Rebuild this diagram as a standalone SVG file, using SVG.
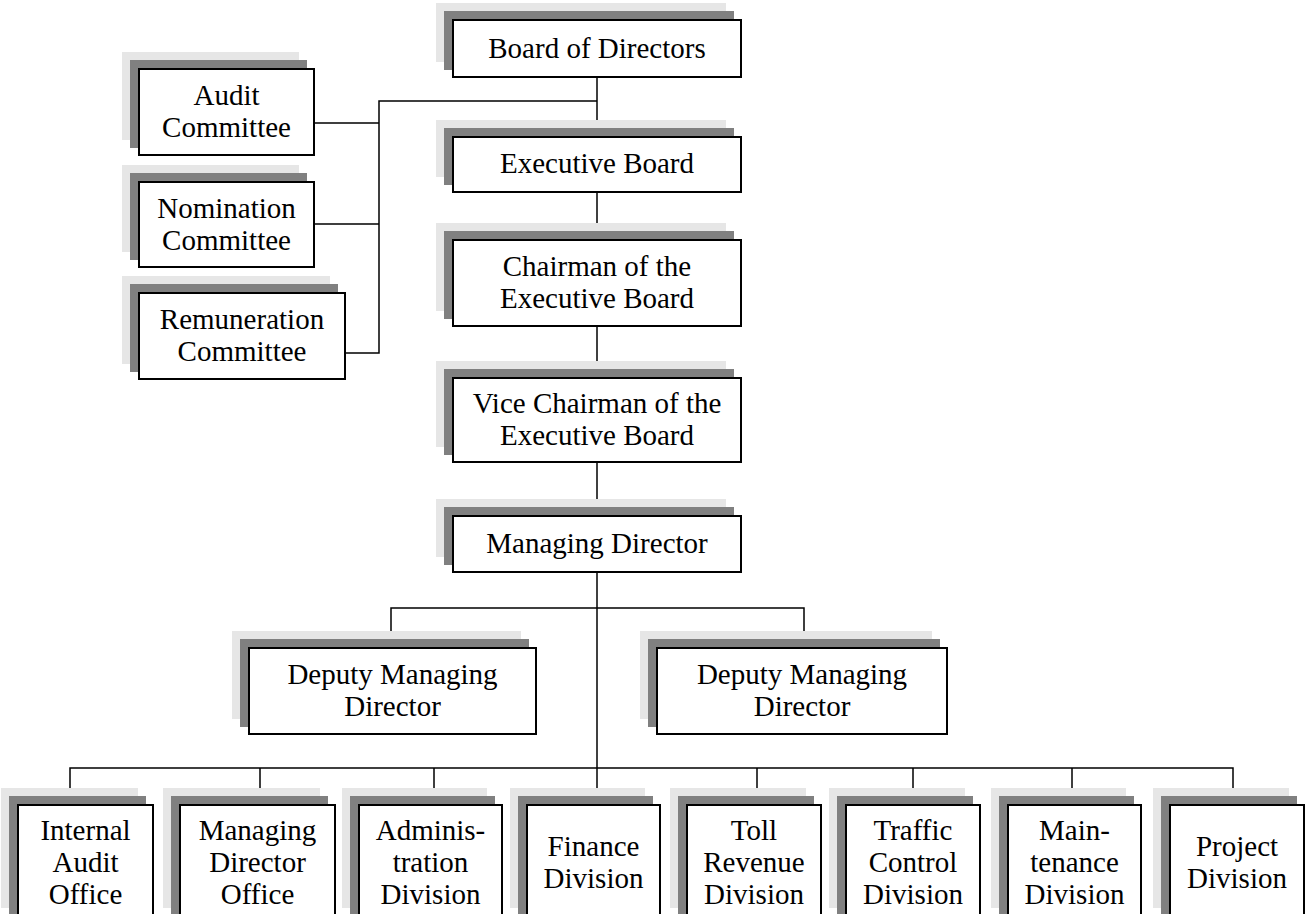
<svg xmlns="http://www.w3.org/2000/svg" width="1308" height="914" viewBox="0 0 1308 914">
<style>
.l{fill:#e6e6e6}
.d{fill:#808080}
.b{fill:#fff;stroke:#000;stroke-width:2}
.t{font-family:"Liberation Serif","Times New Roman",serif;font-size:29px;text-anchor:middle;fill:#000}
.c{stroke:#000;stroke-width:1.5;fill:none}
</style>
<rect width="1308" height="914" fill="#fff"/>
<g id="connectors">
<path class="c" d="M597 78V788"/>
<path class="c" d="M597 101H379V353H346M379 123H315M379 224H315"/>
<path class="c" d="M391 631V608H804V631"/>
<path class="c" d="M70 788V768H1233V788M260 768V788M434 768V788M757 768V788M913 768V788M1072 768V788"/>
</g>
<g id="board">
<rect class="l" x="436" y="3" width="290" height="59"/><rect class="d" x="444" y="11" width="290" height="59"/><rect class="b" x="453" y="20" width="288" height="57"/>
<text class="t" x="597" y="58">Board of Directors</text></g>
<g id="executive-board">
<rect class="l" x="436" y="120" width="290" height="57"/><rect class="d" x="444" y="128" width="290" height="57"/><rect class="b" x="453" y="137" width="288" height="55"/>
<text class="t" x="597" y="173">Executive Board</text></g>
<g id="chairman">
<rect class="l" x="436" y="223" width="290" height="88"/><rect class="d" x="444" y="231" width="290" height="88"/><rect class="b" x="453" y="240" width="288" height="86"/>
<text class="t" x="597" y="276">Chairman of the</text><text class="t" x="597" y="308">Executive Board</text></g>
<g id="vice-chairman">
<rect class="l" x="436" y="361" width="290" height="86"/><rect class="d" x="444" y="369" width="290" height="86"/><rect class="b" x="453" y="378" width="288" height="84"/>
<text class="t" x="597" y="413">Vice Chairman of the</text><text class="t" x="597" y="445">Executive Board</text></g>
<g id="managing-director">
<rect class="l" x="436" y="499" width="290" height="58"/><rect class="d" x="444" y="507" width="290" height="58"/><rect class="b" x="453" y="516" width="288" height="56"/>
<text class="t" x="597" y="553">Managing Director</text></g>
<g id="audit-committee">
<rect class="l" x="122" y="52" width="177" height="88"/><rect class="d" x="130" y="60" width="177" height="88"/><rect class="b" x="139" y="69" width="175" height="86"/>
<text class="t" x="226.5" y="105">Audit</text><text class="t" x="226.5" y="137">Committee</text></g>
<g id="nomination-committee">
<rect class="l" x="122" y="165" width="177" height="87"/><rect class="d" x="130" y="173" width="177" height="87"/><rect class="b" x="139" y="182" width="175" height="85"/>
<text class="t" x="226.5" y="217.5">Nomination</text><text class="t" x="226.5" y="249.5">Committee</text></g>
<g id="remuneration-committee">
<rect class="l" x="122" y="276" width="208" height="88"/><rect class="d" x="130" y="284" width="208" height="88"/><rect class="b" x="139" y="293" width="206" height="86"/>
<text class="t" x="242" y="329">Remuneration</text><text class="t" x="242" y="361">Committee</text></g>
<g id="deputy-left">
<rect class="l" x="232" y="631" width="289" height="88"/><rect class="d" x="240" y="639" width="289" height="88"/><rect class="b" x="249" y="648" width="287" height="86"/>
<text class="t" x="392.5" y="684">Deputy Managing</text><text class="t" x="392.5" y="716">Director</text></g>
<g id="deputy-right">
<rect class="l" x="640" y="631" width="292" height="88"/><rect class="d" x="648" y="639" width="292" height="88"/><rect class="b" x="657" y="648" width="290" height="86"/>
<text class="t" x="802" y="684">Deputy Managing</text><text class="t" x="802" y="716">Director</text></g>
<g id="internal-audit">
<rect class="l" x="1" y="788" width="137" height="120"/><rect class="d" x="9" y="796" width="137" height="120"/><rect class="b" x="18" y="805" width="135" height="118"/>
<text class="t" x="85.5" y="840">Internal</text><text class="t" x="85.5" y="872">Audit</text><text class="t" x="85.5" y="904">Office</text></g>
<g id="md-office">
<rect class="l" x="163" y="788" width="157" height="120"/><rect class="d" x="171" y="796" width="157" height="120"/><rect class="b" x="180" y="805" width="155" height="118"/>
<text class="t" x="257.5" y="840">Managing</text><text class="t" x="257.5" y="872">Director</text><text class="t" x="257.5" y="904">Office</text></g>
<g id="administration">
<rect class="l" x="342" y="788" width="145" height="120"/><rect class="d" x="350" y="796" width="145" height="120"/><rect class="b" x="359" y="805" width="143" height="118"/>
<text class="t" x="430.5" y="840">Adminis-</text><text class="t" x="430.5" y="872">tration</text><text class="t" x="430.5" y="904">Division</text></g>
<g id="finance">
<rect class="l" x="510" y="788" width="135" height="120"/><rect class="d" x="518" y="796" width="135" height="120"/><rect class="b" x="527" y="805" width="133" height="118"/>
<text class="t" x="593.5" y="856">Finance</text><text class="t" x="593.5" y="888">Division</text></g>
<g id="toll-revenue">
<rect class="l" x="670" y="788" width="136" height="120"/><rect class="d" x="678" y="796" width="136" height="120"/><rect class="b" x="687" y="805" width="134" height="118"/>
<text class="t" x="754" y="840">Toll</text><text class="t" x="754" y="872">Revenue</text><text class="t" x="754" y="904">Division</text></g>
<g id="traffic-control">
<rect class="l" x="829" y="788" width="136" height="120"/><rect class="d" x="837" y="796" width="136" height="120"/><rect class="b" x="846" y="805" width="134" height="118"/>
<text class="t" x="913" y="840">Traffic</text><text class="t" x="913" y="872">Control</text><text class="t" x="913" y="904">Division</text></g>
<g id="maintenance">
<rect class="l" x="991" y="788" width="135" height="120"/><rect class="d" x="999" y="796" width="135" height="120"/><rect class="b" x="1008" y="805" width="133" height="118"/>
<text class="t" x="1074.5" y="840">Main-</text><text class="t" x="1074.5" y="872">tenance</text><text class="t" x="1074.5" y="904">Division</text></g>
<g id="project">
<rect class="l" x="1153" y="788" width="136" height="120"/><rect class="d" x="1161" y="796" width="136" height="120"/><rect class="b" x="1170" y="805" width="134" height="118"/>
<text class="t" x="1237" y="856">Project</text><text class="t" x="1237" y="888">Division</text></g>
</svg>
